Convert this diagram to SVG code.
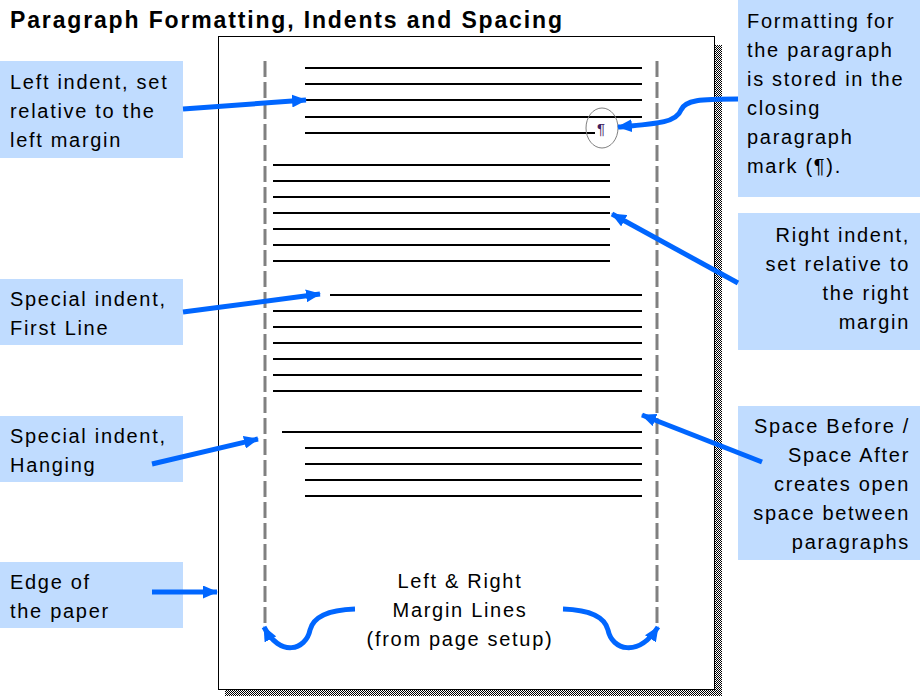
<svg xmlns="http://www.w3.org/2000/svg" width="920" height="696" viewBox="0 0 920 696">
<defs>
<pattern id="dots" width="2" height="2" patternUnits="userSpaceOnUse">
<rect width="2" height="2" fill="#ffffff"/>
<rect width="1" height="1" fill="#000000"/>
<rect x="1" y="1" width="1" height="1" fill="#000000"/>
</pattern>
<marker id="ah" markerUnits="userSpaceOnUse" markerWidth="15" markerHeight="13" refX="14" refY="6.5" orient="auto">
<path d="M0,0 L15,6.5 L0,13 Z" fill="#0066ff"/>
</marker>
</defs>
<style>
.t{font-family:"Liberation Sans",Arial,sans-serif;font-size:20px;letter-spacing:1.7px;fill:#000}
.box{fill:#c0dcff}
.ln{stroke:#000;stroke-width:2;fill:none}
.mg{stroke:#808080;stroke-width:3;stroke-dasharray:16 5;fill:none}
.ar{stroke:#0066ff;stroke-width:5;fill:none;marker-end:url(#ah)}
.r{text-anchor:end}
.c{text-anchor:middle}
</style>
<rect width="920" height="696" fill="#fff"/>
<text x="10" y="28" style="font-family:'Liberation Sans',Arial,sans-serif;font-size:23px;font-weight:bold;letter-spacing:1.85px">Paragraph Formatting, Indents and Spacing</text>

<g id="page">
<rect x="715" y="45" width="7" height="651" fill="url(#dots)"/>
<rect x="225" y="690" width="497" height="6" fill="url(#dots)"/>
<rect x="218.5" y="36.5" width="496" height="653" fill="#fff" stroke="#000" stroke-width="1"/>
<line class="mg" x1="265" y1="61" x2="265" y2="626"/>
<line class="mg" x1="657" y1="61" x2="657" y2="626"/>
</g>

<g id="para1">
<path class="ln" d="M305,68H642M305,84H642M305,100H642M305,117H642M305,133H595"/>
<ellipse cx="602" cy="128" rx="16" ry="20" fill="none" stroke="#808080" stroke-width="1"/>
<text x="601" y="134" style="font-family:'Liberation Sans',Arial,sans-serif;font-size:15px;fill:#402060" text-anchor="middle">¶</text>
</g>
<g id="para2">
<path class="ln" d="M273,165H610M273,181H610M273,197H610M273,213H610M273,229H610M273,245H610M273,261H610"/>
</g>
<g id="para3">
<path class="ln" d="M330,295H642M273,311H642M273,327H642M273,343H642M273,359H642M273,375H642M273,391H642"/>
</g>
<g id="para4">
<path class="ln" d="M282,432H642M305,448H642M305,464H642M305,480H642M305,496H642"/>
</g>

<g id="margin-label">
<text class="t c" x="460" y="588">Left &amp; Right</text>
<text class="t c" x="460" y="617">Margin Lines</text>
<text class="t c" x="460" y="646">(from page setup)</text>
</g>

<g id="left-indent">
<rect class="box" x="0" y="61" width="183" height="97"/>
<text class="t" x="10" y="89">Left indent, set</text>
<text class="t" x="10" y="118">relative to the</text>
<text class="t" x="10" y="147">left margin</text>
</g>
<g id="formatting">
<rect class="box" x="738" y="0" width="182" height="197"/>
<text class="t" x="747" y="28">Formatting for</text>
<text class="t" x="747" y="57">the paragraph</text>
<text class="t" x="747" y="86">is stored in the</text>
<text class="t" x="747" y="115">closing</text>
<text class="t" x="747" y="144">paragraph</text>
<text class="t" x="747" y="173">mark (¶).</text>
</g>
<g id="right-indent">
<rect class="box" x="738" y="213" width="182" height="137"/>
<text class="t r" x="910" y="242">Right indent,</text>
<text class="t r" x="910" y="271">set relative to</text>
<text class="t r" x="910" y="300">the right</text>
<text class="t r" x="910" y="329">margin</text>
</g>
<g id="first-line">
<rect class="box" x="0" y="279" width="183" height="66"/>
<text class="t" x="10" y="306">Special indent,</text>
<text class="t" x="10" y="335">First Line</text>
</g>
<g id="hanging">
<rect class="box" x="0" y="416" width="183" height="66"/>
<text class="t" x="10" y="443">Special indent,</text>
<text class="t" x="10" y="472">Hanging</text>
</g>
<g id="spacing">
<rect class="box" x="738" y="406" width="182" height="154"/>
<text class="t r" x="910" y="433">Space Before /</text>
<text class="t r" x="910" y="462">Space After</text>
<text class="t r" x="910" y="491">creates open</text>
<text class="t r" x="910" y="520">space between</text>
<text class="t r" x="910" y="549">paragraphs</text>
</g>
<g id="edge">
<rect class="box" x="0" y="562" width="183" height="66"/>
<text class="t" x="10" y="589">Edge of</text>
<text class="t" x="10" y="618">the paper</text>
</g>

<g id="connectors">
<path class="ar" d="M183,109 L306,100"/>
<path class="ar" d="M738,99 C700,99 685,100 681,110 C676,124 650,124 618,127"/>
<path class="ar" d="M738,283 L612,214"/>
<path class="ar" d="M183,312 L320,294"/>
<path class="ar" d="M152,464 L258,439"/>
<path class="ar" d="M762,462 L642,415"/>
<path class="ar" d="M152,592 L217,592"/>
<path class="ar" d="M355,609 C325,610 313,618 310,630 C306,650 280,658 264,627"/>
<path class="ar" d="M563,609 C593,610 605,618 608,630 C612,650 638,658 658,627"/>
</g>
</svg>
